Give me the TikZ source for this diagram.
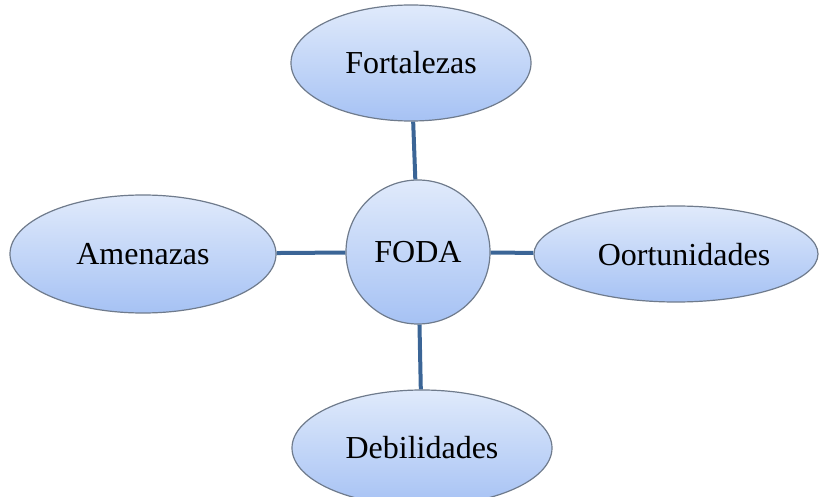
\documentclass[tikz,border=0pt]{standalone}
\usepackage{fontspec}
\setmainfont{Liberation Serif}
\usetikzlibrary{shapes.geometric}
\definecolor{topblue}{HTML}{E0EAFB}
\definecolor{botblue}{HTML}{A6C2F4}
\definecolor{rimgray}{HTML}{6F7B8C}
\definecolor{linkblue}{HTML}{3B6596}
\begin{document}
\begin{tikzpicture}[x=0.5pt,y=-0.5pt,line width=2pt,
  main node/.style={ellipse,draw=rimgray,line width=0.6pt,top color=topblue,bottom color=botblue,
    inner sep=0pt,font=\fontsize{16}{19}\selectfont},
  hub node/.style={main node,circle,minimum size=72pt}]

  \useasboundingbox (0,0) rectangle (824,497);

  \node[hub node] (foda) at (418,252) {FODA};
  \node[main node,minimum width=120pt,minimum height=58pt] (fort) at (411,63) {Fortalezas};
  \node[main node,minimum width=133pt,minimum height=59pt] (amen) at (143,254) {Amenazas};
  \node[main node,minimum width=142pt,minimum height=48pt,text depth=0pt,xshift=0pt] (oport) at (676,254) {\hspace*{8pt}Oortunidades};
  \node[main node,minimum width=130pt,minimum height=58pt] (debil) at (422,448) {Debilidades};

  \path[draw=linkblue]
    (fort) edge (foda)
    (amen) edge (foda)
    (foda) edge (oport)
    (foda) edge (debil);
\end{tikzpicture}
\end{document}
